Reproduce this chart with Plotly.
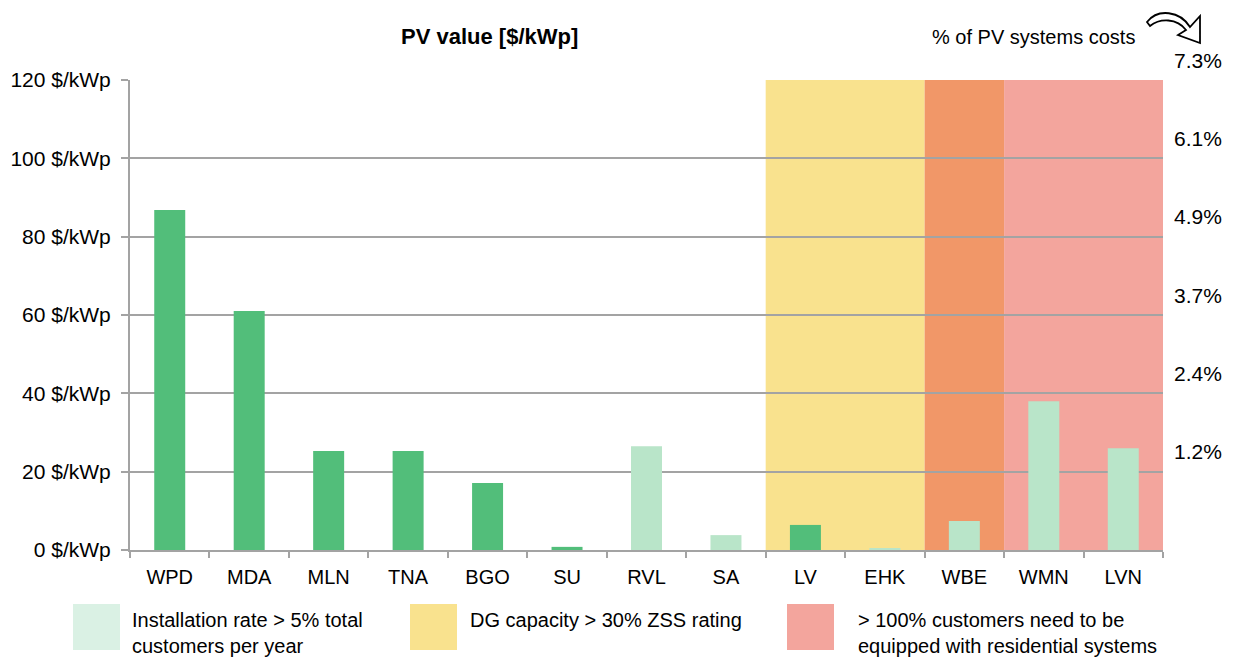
import plotly.graph_objects as go

# ---- data ----
categories = ["WPD", "MDA", "MLN", "TNA", "BGO", "SU", "RVL", "SA", "LV", "EHK", "WBE", "WMN", "LVN"]
pv_value = [86.8, 61.0, 25.3, 25.3, 17.1, 0.8, 26.5, 3.8, 6.4, 0.5, 7.4, 38.0, 26.0]
high_install_rate = [False, False, False, False, False, False, True, True, False, True, True, True, True]
y_tick_vals = [0, 20, 40, 60, 80, 100, 120]
y_tick_text = ["0 $/kWp", "20 $/kWp", "40 $/kWp", "60 $/kWp", "80 $/kWp", "100 $/kWp", "120 $/kWp"]
pct_vals = [20, 40, 60, 80, 100, 120]
pct_text = ["1.2%", "2.4%", "3.7%", "4.9%", "6.1%", "7.3%"]
dg_capacity_cats = ["LV", "EHK", "WBE"]
customers_cats = ["WBE", "WMN", "LVN"]
legend_labels = ["Installation rate > 5% total<br>customers per year",
                 "DG capacity > 30% ZSS rating",
                 "> 100% customers need to be<br>equipped with residential systems"]

DARK = "#52BE7A"
LIGHT = "#B9E5C9"
YELLOW = "#F9E28E"
PINK = "#F3A59D"
ORANGE = "#F19768"
LEG_GREEN = "#DAF1E4"
GRID = "#A3A3A3"
FONT = "Liberation Sans, Arial, sans-serif"

OFF = 8  # default page body margin
W, H = 1233 - OFF, 666 - OFF
PL, PR, PT, PB = 130, 1163, 80, 550  # plot area in page pixels
L, T = PL - OFF, PT - OFF
R = W + OFF - PR
B = H + OFF - PB
pw, ph = PR - PL, PB - PT


def px(x):
    return (x - PL) / pw


def py(y):
    return (PB - y) / ph


colors = [LIGHT if f else DARK for f in high_install_rate]

fig = go.Figure()
fig.add_trace(go.Bar(x=categories, y=pv_value, marker=dict(color=colors, line=dict(width=0)),
                     width=0.39, showlegend=False))

shapes = []
# shaded bands (category indices)
iy = [categories.index(c) for c in dg_capacity_cats]
ip = [categories.index(c) for c in customers_cats]
overlap = sorted(set(iy) & set(ip))
y_only = [i for i in iy if i not in overlap]
p_only = [i for i in ip if i not in overlap]
for idx, col in ((y_only, YELLOW), (overlap, ORANGE), (p_only, PINK)):
    if idx:
        shapes.append(dict(type="rect", xref="x", yref="y", x0=min(idx) - 0.5, x1=max(idx) + 0.5,
                           y0=0, y1=120, fillcolor=col, line=dict(width=0), layer="below"))

# curved arrow (decoration)
arrow_pts = [(1147, 22), (1158, 8), (1180, 11), (1190, 27), (1200, 16), (1200, 43), (1178, 35),
             (1186, 30), (1177, 18), (1160, 18), (1150, 26)]
a = [(px(x), py(y)) for x, y in arrow_pts]
path = (f"M {a[0][0]},{a[0][1]} C {a[1][0]},{a[1][1]} {a[2][0]},{a[2][1]} {a[3][0]},{a[3][1]} "
        f"L {a[4][0]},{a[4][1]} L {a[5][0]},{a[5][1]} L {a[6][0]},{a[6][1]} L {a[7][0]},{a[7][1]} "
        f"C {a[8][0]},{a[8][1]} {a[9][0]},{a[9][1]} {a[10][0]},{a[10][1]} Z")
shapes.append(dict(type="path", xref="paper", yref="paper", path=path,
                   fillcolor="white", line=dict(color="black", width=1.8)))

# legend squares
leg_colors = [LEG_GREEN, YELLOW, PINK]
leg_sq_x = [73, 410, 787]
leg_txt_x = [130, 468, 856]
for c, x0 in zip(leg_colors, leg_sq_x):
    shapes.append(dict(type="rect", xref="paper", yref="paper", x0=px(x0), x1=px(x0 + 47),
                       y0=py(650), y1=py(604), fillcolor=c, line=dict(width=0)))

annotations = []
annotations.append(dict(text="<b>PV value [$/kWp]</b>", xref="paper", yref="paper", x=px(489), y=py(37),
                        xanchor="center", yanchor="middle", showarrow=False,
                        font=dict(size=22, color="black", family=FONT)))
annotations.append(dict(text="% of PV systems costs", xref="paper", yref="paper", x=px(1137), y=py(37),
                        xanchor="right", yanchor="middle", showarrow=False,
                        font=dict(size=20, color="black", family=FONT)))
for v, t in zip(pct_vals, pct_text):
    annotations.append(dict(text=t, xref="paper", yref="y", x=1.0, y=v, xanchor="left", yanchor="middle",
                            xshift=9, yshift=20, showarrow=False,
                            font=dict(size=21, color="black", family=FONT)))
for t, x0 in zip(legend_labels, leg_txt_x):
    annotations.append(dict(text=t, xref="paper", yref="paper", x=px(x0), y=py(607), xanchor="left",
                            yanchor="top", align="left", showarrow=False,
                            font=dict(size=20, color="black", family=FONT)))

fig.update_layout(
    width=W, height=H,
    margin=dict(l=L, r=R, t=T, b=B, pad=0, autoexpand=False),
    paper_bgcolor="white", plot_bgcolor="white",
    bargap=0.6,
    font=dict(family=FONT, size=20, color="black"),
    shapes=shapes, annotations=annotations,
    xaxis=dict(type="category", categoryorder="array", categoryarray=categories, automargin=False,
               showline=True, linecolor=GRID, linewidth=2, ticks="outside", tickson="boundaries",
               ticklen=6, tickcolor=GRID, tickwidth=1.5, showgrid=False, ticklabelstandoff=8,
               tickfont=dict(size=20, family=FONT, color="black"), range=[-0.5, 12.5]),
    yaxis=dict(range=[0, 120], tickvals=y_tick_vals, ticktext=y_tick_text, showgrid=True, automargin=False,
               gridcolor=GRID, gridwidth=1.5, showline=True, linecolor=GRID, linewidth=2,
               ticks="outside", ticklen=7, tickcolor=GRID, tickwidth=1.5, zeroline=False,
               ticklabelstandoff=6, tickfont=dict(size=21, family=FONT, color="black")),
)

fig.write_html("out.html")
